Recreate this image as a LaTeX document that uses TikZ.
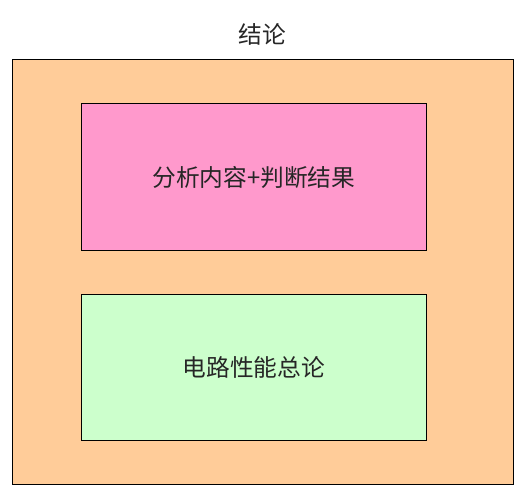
\documentclass[tikz,border=0pt]{standalone}
\usepackage{fontspec}
\newfontfamily\cjk{Noto Sans CJK SC}
\definecolor{peach}{HTML}{FFCC99}
\definecolor{rosepink}{HTML}{FF99CC}
\definecolor{mintgreen}{HTML}{CCFFCC}
\tikzset{
  box/.style={draw, rectangle, line width=0.5pt, anchor=north west, inner sep=0pt},
  label/.style={font=\cjk\fontsize{13.5}{16}\selectfont, text=black!85}
}
\begin{document}
\begin{tikzpicture}[x=0.02cm, y=-0.02cm]
\useasboundingbox (0,0) rectangle (519,489);
% Outer frame
\node[box, fill=peach, minimum width=10.04cm, minimum height=8.49cm] (frame) at (11.5,59.5) {};
\node[label] (title) at (262,34) {结论};

% Analysis box
\node[box, fill=rosepink, minimum width=6.92cm, minimum height=2.93cm] (analysis) at (80.5,103.5) {};
\node[label] (analysistext) at (analysis.center) {分析内容+判断结果};

% Summary box
\node[box, fill=mintgreen, minimum width=6.92cm, minimum height=2.93cm] (summary) at (80.5,293.5) {};
\node[label] (summarytext) at (summary.center) {电路性能总论};
\end{tikzpicture}
\end{document}
